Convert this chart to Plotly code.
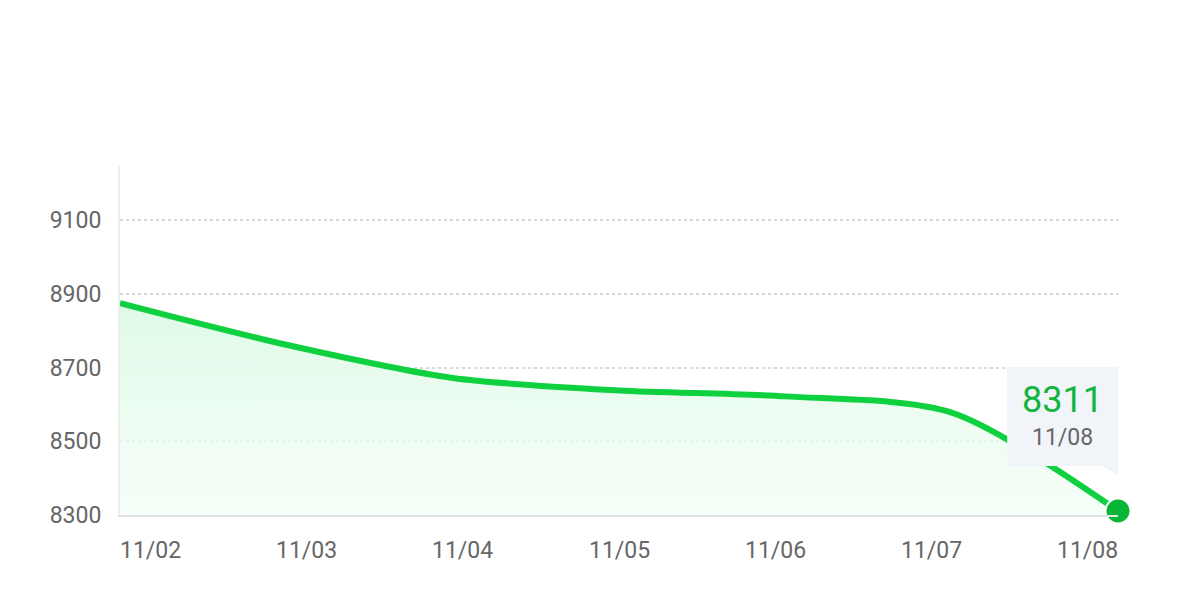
import plotly.graph_objects as go

dates = ["11/02", "11/03", "11/04", "11/05", "11/06", "11/07", "11/08"]
values = [8875, 8762, 8672, 8638, 8622, 8578, 8311]
y_ticks = [8300, 8500, 8700, 8900, 9100]
y_range = [8300, 9250]

FONT = "Roboto"
GREY = "#666666"
LINE = "#0fd13f"
DOT = "#09b534"

x = list(range(len(dates)))
n = len(dates)

fig = go.Figure()
# baseline for fill
fig.add_trace(go.Scatter(x=x, y=[y_range[0]] * n, mode="lines",
                         line=dict(width=0), hoverinfo="skip", showlegend=False))
fig.add_trace(go.Scatter(
    x=x, y=values, mode="lines", fill="tonexty",
    line=dict(color=LINE, width=6, shape="spline", smoothing=0.8),
    fillgradient=dict(type="vertical",
                      colorscale=[[0, "rgba(240,253,244,0.6)"], [1, "rgba(222,250,231,1)"]]),
    showlegend=False, hoverinfo="skip"))
fig.add_trace(go.Scatter(
    x=[x[-1]], y=[values[-1]], mode="markers",
    marker=dict(color=DOT, size=25, line=dict(color="white", width=2)),
    cliponaxis=False, showlegend=False, hoverinfo="skip"))

# tooltip box
fig.add_shape(type="rect", xref="paper", yref="paper",
              x0=0.889, x1=1.0, y0=0.14, y1=0.423,
              fillcolor="#f1f4f9", line=dict(width=0), layer="above")
fig.add_shape(type="path", xref="paper", yref="paper",
              path="M 0.984 0.14 L 1.0 0.14 L 1.0 0.116 Z",
              fillcolor="#f1f4f9", line=dict(width=0), layer="above")
fig.add_annotation(xref="paper", yref="paper", x=0.9445, y=0.328,
                   xanchor="center", yanchor="middle",
                   text=str(values[-1]), showarrow=False,
                   font=dict(family=FONT, size=36, color="#10b53c"))
fig.add_annotation(xref="paper", yref="paper", x=0.9445, y=0.222,
                   xanchor="center", yanchor="middle",
                   text=dates[-1], showarrow=False,
                   font=dict(family=FONT, size=23, color=GREY))

# x labels, justified across the plot width
first, last = 0.031, 0.969
for i, d in enumerate(dates):
    fig.add_annotation(xref="paper", yref="paper",
                       x=first + i * (last - first) / (n - 1), y=-0.1,
                       text=d, showarrow=False, xanchor="center", yanchor="middle",
                       font=dict(family=FONT, size=23, color=GREY))

fig.update_layout(
    width=1171, height=599,
    margin=dict(l=112, r=61, t=157, b=92),
    paper_bgcolor="white", plot_bgcolor="white",
    xaxis=dict(range=[0, n - 1], showgrid=False, zeroline=False,
               showticklabels=False, showline=True, linecolor="#e3e3e3",
               linewidth=2, ticks=""),
    yaxis=dict(range=y_range, tickvals=y_ticks, showgrid=True,
               gridcolor="#d8d8d8", griddash="dot", gridwidth=2,
               zeroline=False, showline=True, linecolor="#eeeeee", linewidth=2,
               ticks="", ticklabelstandoff=12,
               tickfont=dict(family=FONT, size=23, color=GREY)),
)

fig.write_html("out.html")
